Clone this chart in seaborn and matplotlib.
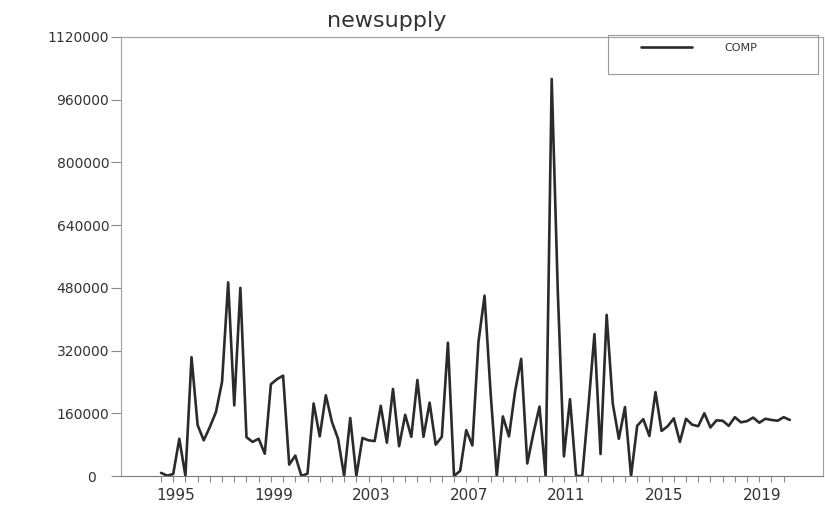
import numpy as np
import pandas as pd
import matplotlib
matplotlib.use("Agg")
import matplotlib.pyplot as plt
import seaborn as sns
from matplotlib.patches import Rectangle
from matplotlib.ticker import FixedLocator

# ---------------- data ----------------
chart_title = "newsupply"
series_name = "COMP"
start_quarter = "1994Q3"
comp_values = [
    8000, 1000, 5000, 95000, 0, 303000, 130000, 91000,
    125000, 163000, 240000, 494000, 180000, 480000, 99000, 87000,
    95000, 57000, 234000, 247000, 256000, 29000, 52000, 0,
    6000, 185000, 101000, 206000, 138000, 95000, 0, 148000,
    0, 97000, 91000, 89000, 179000, 85000, 222000, 76000,
    156000, 100000, 245000, 100000, 187000, 80000, 100000, 340000,
    0, 13000, 117000, 78000, 342000, 460000, 210000, 0,
    152000, 101000, 216000, 299000, 32000, 109000, 177000, 0,
    1013000, 470000, 50000, 196000, 0, 0, 175000, 362000,
    56000, 411000, 185000, 95000, 176000, 0, 128000, 145000,
    102000, 214000, 115000, 127000, 147000, 87000, 146000, 131000,
    127000, 160000, 124000, 142000, 141000, 128000, 150000, 137000,
    140000, 149000, 136000, 146000, 143000, 141000, 150000, 143000,
]
year_labels = ["1995", "1999", "2003", "2007", "2011", "2015", "2019"]
y_tick_values = [0, 160000, 320000, 480000, 640000, 800000, 960000, 1120000]
y_tick_labels = ["0", "160000", "320000", "480000", "640000", "800000", "960000", "1120000"]

# ---------------- frame ----------------
periods = pd.period_range(start_quarter, periods=len(comp_values), freq="Q")
df = pd.DataFrame({
    "t": periods.year + (periods.quarter - 1) / 4.0,
    series_name: comp_values,
})

sns.set_style("white")
plt.rcParams["font.family"] = ["DejaVu Sans"]

W, H = 825, 507
fig = plt.figure(figsize=(W / 100, H / 100), dpi=100)
ax_left, ax_right, ax_top, ax_bottom = 121, 823, 37, 476
ax = fig.add_axes([ax_left / W, 1 - ax_bottom / H,
                   (ax_right - ax_left) / W, (ax_bottom - ax_top) / H])

line_color = "#2b2b2b"
text_color = "#333333"
sns.lineplot(data=df, x="t", y=series_name, ax=ax, color=line_color,
             linewidth=1.9, label=series_name)

ax.set_xlim(1992.862, 2021.61)
ax.set_ylim(0, 1120000)
ax.set_xlabel("")
ax.set_ylabel("")

for side, sp in ax.spines.items():
    sp.set_visible(True)
    sp.set_linewidth(0.8)
    sp.set_color("#a0a0a0")
ax.spines["bottom"].set_color("#7a7a7a")

# y ticks
ax.set_yticks(y_tick_values)
ax.set_yticklabels(y_tick_labels)
ax.tick_params(axis="y", which="major", direction="out", length=7, width=0.8,
               color="#8a8a8a", pad=1.5, labelsize=10, labelcolor=text_color,
               left=True)
zero_tick = ax.yaxis.get_major_ticks()[0]
zero_tick.tick1line.set_markersize(10)
zero_tick.set_pad(11)

# x ticks: year labels + half-year minor ticks
year_pos = [int(y) + 0.11 for y in year_labels]
ax.set_xticks(year_pos)
ax.set_xticklabels(year_labels)
half_years = [1994.5 + 0.5 * k for k in range(52)]
ax.xaxis.set_minor_locator(FixedLocator(half_years))
ax.tick_params(axis="x", which="major", length=0, pad=9, labelsize=11,
               labelcolor=text_color, bottom=True)
ax.tick_params(axis="x", which="minor", direction="out", length=4, width=0.8,
               color="#8a8a8a", bottom=True)

# legend (content) + framed box
handles, labels = ax.get_legend_handles_labels()
leg = ax.legend(handles, labels, frameon=False, loc="center left",
                bbox_to_anchor=(641 / W, 1 - 48 / H),
                bbox_transform=fig.transFigure, borderpad=0, borderaxespad=0,
                handlelength=4.6, handletextpad=2.9, fontsize=8)
for txt in leg.get_texts():
    txt.set_color(text_color)
fig.add_artist(Rectangle((608 / W, 1 - 74 / H), 210 / W, 39 / H,
                         transform=fig.transFigure, fill=False,
                         edgecolor="#9a9a9a", linewidth=0.8))

fig.text(387 / W, 1 - 21 / H, chart_title, ha="center", va="center",
         fontsize=16, color=text_color)

fig.savefig("out.png", dpi=100, facecolor="white")
